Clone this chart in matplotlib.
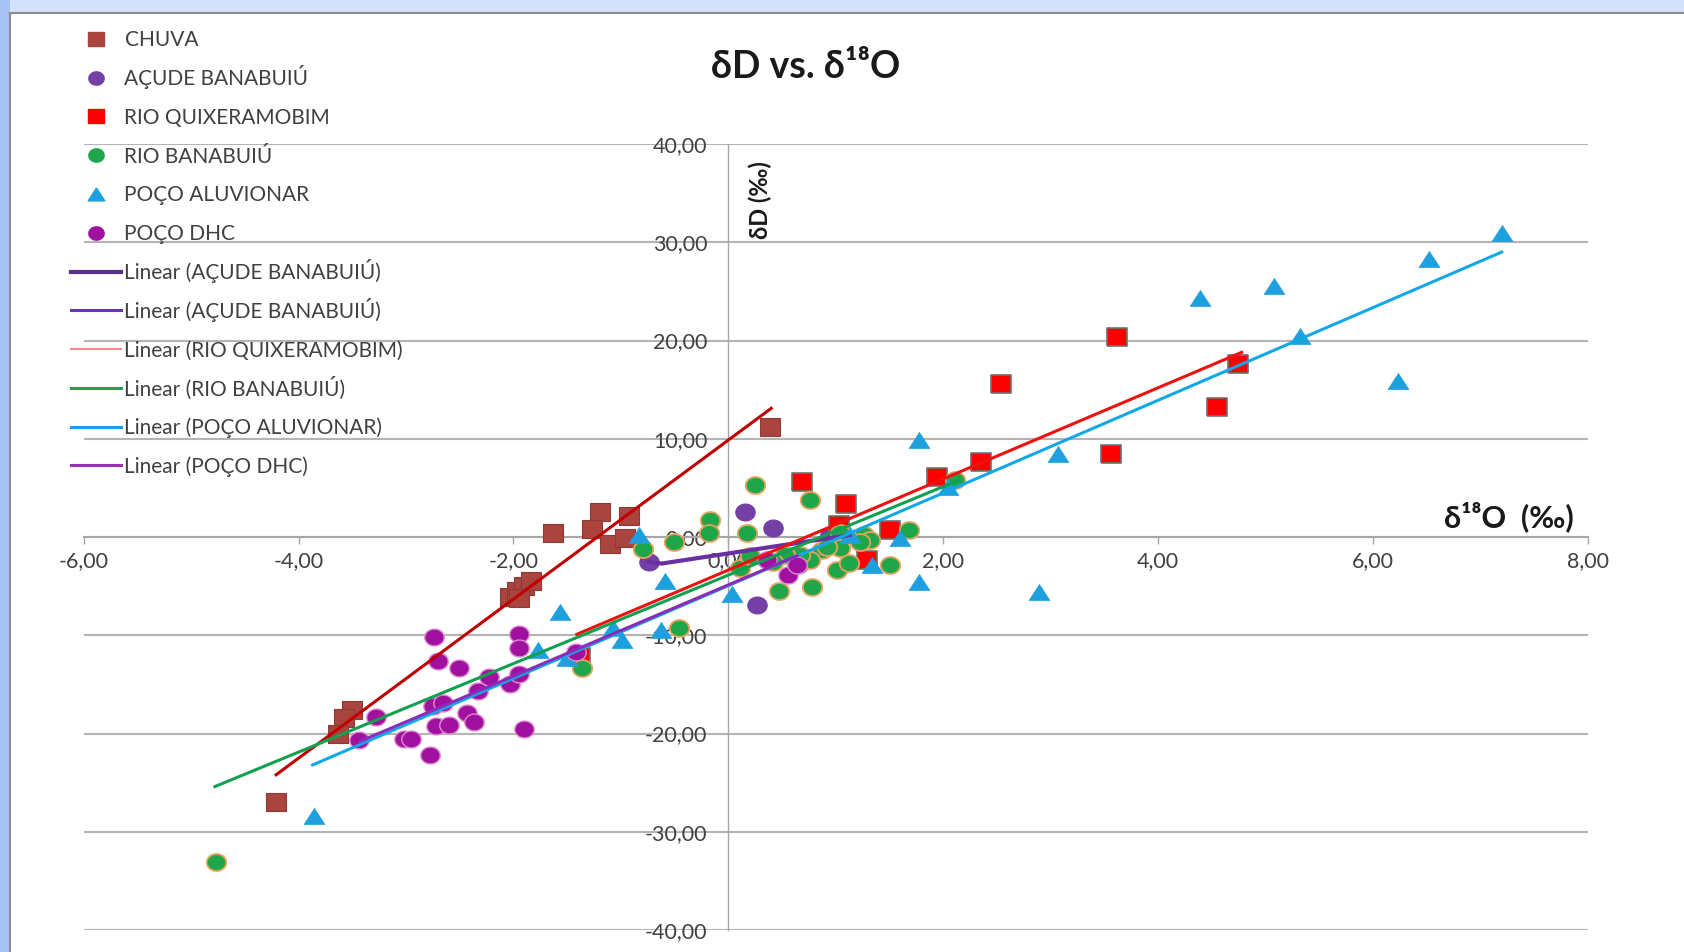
import numpy as np
import matplotlib
matplotlib.use('Agg')
from matplotlib import pyplot as plt
from matplotlib.lines import Line2D
from matplotlib.patches import Rectangle
from matplotlib.path import Path
from matplotlib.ticker import FuncFormatter

plt.rcParams['font.family'] = ['Lato', 'DejaVu Sans']

# --- data (delta 18O, delta D) ---
chuva_x = [0.39, -1.63, -1.19, -1.27, -0.92, -1.10, -0.96, -2.03, -1.97, -1.90,
           -1.84, -1.95, -3.50, -3.58, -3.63, -4.21]
chuva_y = [11.2, 0.4, 2.5, 0.8, 2.1, -0.7, -0.1, -6.1, -5.5, -5.0,
           -4.5, -6.2, -17.6, -18.4, -20.0, -27.0]

acude_x = [-0.74, 0.16, 0.42, 0.27, 0.65, 0.95, 0.36]
acude_y = [-2.5, 2.5, 0.9, -6.9, -2.85, 0.2, -2.3]

quix_x = [0.69, 1.10, 1.03, 1.51, 1.29, 1.94, 2.35, 2.54, 3.56, 3.62, 4.55, 4.75, -1.38]
quix_y = [5.6, 3.4, 1.2, 0.7, -2.3, 6.1, 7.65, 15.6, 8.4, 20.4, 13.2, 17.65, -12.2]

rio_x = [-4.77, -1.36, -0.46, -0.79, -0.51, -0.17, -0.18, 0.25, 0.17, 0.76,
         0.47, 0.78, 1.01, 1.12, 1.51, 1.04, 0.87, 1.26, 1.32, 1.23,
         1.68, 1.04, 0.76, 0.67, 0.53, 0.11, 0.42, 0.92, 2.11, 0.20]
rio_y = [-33.1, -13.3, -9.3, -1.2, -0.5, 1.7, 0.4, 5.3, 0.4, 3.8,
         -5.5, -5.1, -3.35, -2.6, -2.85, 0.4, -1.3, 0.2, -0.3, -0.5,
         0.7, -1.15, -2.3, -1.8, -1.8, -3.2, -2.5, -1.0, 5.8, -1.9]

aluv_x = [-3.86, -1.77, -1.50, -1.57, -1.07, -0.99, -0.63, -0.83, -0.59, 0.03,
          1.13, 1.34, 1.60, 1.78, 1.78, 2.05, 2.89, 3.07, 4.39, 5.08,
          5.32, 6.24, 6.52, 7.20]
aluv_y = [-28.4, -11.5, -12.3, -7.6, -9.3, -10.5, -9.5, 0.2, -4.5, -5.8,
          0.2, -2.85, -0.1, -4.6, 9.9, 5.05, -5.6, 8.4, 24.3, 25.6,
          20.5, 15.9, 28.3, 30.9]

dhc_x = [-2.74, -2.70, -2.51, -2.23, -2.33, -2.03, -1.95, -1.95, -1.95, -1.42,
         -3.28, -3.44, -3.02, -2.95, -2.78, -2.75, -2.66, -2.72, -2.60, -2.43,
         -2.37, -1.90, 0.56, 0.36, 0.64]
dhc_y = [-10.2, -12.6, -13.3, -14.2, -15.7, -15.0, -9.9, -11.3, -13.9, -11.7,
         -18.3, -20.7, -20.6, -20.6, -22.2, -17.2, -16.9, -19.2, -19.1, -17.9,
         -18.8, -19.5, -3.86, -2.3, -2.85]

# trend line end points as drawn on the chart
chuva_fit_x, chuva_fit_y = [-4.21, 0.40], [-24.2, 13.1]
acude_fit_x, acude_fit_y = [-0.74, -0.62, 1.13], [-2.55, -2.7, 0.2]
quix_fit_x, quix_fit_y = [-1.41, 4.78], [-9.9, 18.8]
rio_fit_x, rio_fit_y = [-4.78, 2.15], [-25.4, 5.8]
aluv_fit_x, aluv_fit_y = [-3.87, 7.20], [-23.2, 29.0]
dhc_fit_x, dhc_fit_y = [-3.43, 0.64], [-20.8, -1.9]

x_ticks = [-6, -4, -2, 0, 2, 4, 6, 8]
y_ticks = [-40, -30, -20, -10, 0, 10, 20, 30, 40]

legend_labels = ['CHUVA', 'AÇUDE BANABUIÚ', 'RIO QUIXERAMOBIM', 'RIO BANABUIÚ',
                 'POÇO ALUVIONAR', 'POÇO DHC', 'Linear (AÇUDE BANABUIÚ)',
                 'Linear (AÇUDE BANABUIÚ)', 'Linear (RIO QUIXERAMOBIM)',
                 'Linear (RIO BANABUIÚ)', 'Linear (POÇO ALUVIONAR)', 'Linear (POÇO DHC)']

# markers are a bit wider than tall in the original (stretched picture)
t = np.linspace(0, 2 * np.pi, 48)
oval = Path(np.column_stack([1.15 * np.cos(t), np.sin(t)]))
rect = Path([(-0.6, -0.5), (0.6, -0.5), (0.6, 0.5), (-0.6, 0.5), (-0.6, -0.5)])
tri = Path([(0, 0.5), (0.65, -0.5), (-0.65, -0.5), (0, 0.5)])

fig = plt.figure(figsize=(16.84, 9.52), dpi=100)
fig.patch.set_facecolor('#D3E2FB')
fig.patches.append(Rectangle((0, 0), 0.006, 1, transform=fig.transFigure,
                             facecolor='#A8C2F3', edgecolor='none', zorder=-10))
fig.patches.append(Rectangle((0.0062, -0.01), 1.0, 0.9965, transform=fig.transFigure,
                             facecolor='white', edgecolor='#8C8C8C', lw=1.5, zorder=-9))

ax = fig.add_axes([0.0498, 0.0231, 0.8929, 0.8256])
ax.set_facecolor('none')
ax.set_xlim(-6, 8)
ax.set_ylim(-40, 40)

for side in ['top', 'right']:
    ax.spines[side].set_visible(False)
ax.spines['left'].set_position(('data', 0))
ax.spines['bottom'].set_position(('data', 0))
ax.spines['left'].set_color('#A6A6A6')
ax.spines['bottom'].set_color('#A6A6A6')
ax.spines['left'].set_linewidth(1.0)
ax.spines['bottom'].set_linewidth(1.5)

ax.set_xticks(x_ticks)
ax.set_yticks(y_ticks)
fmt = FuncFormatter(lambda v, p: ('%.2f' % v).replace('.', ','))
ax.xaxis.set_major_formatter(fmt)
ax.yaxis.set_major_formatter(fmt)
ax.tick_params(axis='x', length=5, width=1, color='#A6A6A6', pad=5,
               labelsize=15.5, labelcolor='#404040')
ax.tick_params(axis='y', length=0, pad=15, labelsize=15.5, labelcolor='#404040')
ax.yaxis.grid(True, color='#B4B4B4', lw=1.5)
ax.set_axisbelow(True)

ms_sq = 15 ** 2
ms_c = 14 ** 2
ms_t = 15 ** 2
ax.scatter(chuva_x, chuva_y, marker=rect, s=ms_sq, c='#A9443F', edgecolors='#8E3A36', lw=0.8, zorder=3)
ax.scatter(acude_x, acude_y, marker=oval, s=ms_c, c='#7440A5', edgecolors='#7440A5', lw=0.8, zorder=3)
ax.scatter(quix_x, quix_y, marker=rect, s=ms_sq, c='#FF0000', edgecolors='#6F6F6F', lw=1.2, zorder=3)
ax.scatter(rio_x, rio_y, marker=oval, s=ms_c, c='#1FA64A', edgecolors='#E3A35C', lw=1.3, zorder=3)
ax.scatter(aluv_x, aluv_y, marker=tri, s=ms_t, c='#1EA0DE', edgecolors='#1EA0DE', lw=0.5, zorder=3)
ax.scatter(dhc_x, dhc_y, marker=oval, s=ms_c, c='#A0119F', edgecolors='#E08AD0', lw=1.0, zorder=3)

ax.plot(chuva_fit_x, chuva_fit_y, color='#C00000', lw=2.2, zorder=4)
ax.plot(acude_fit_x, acude_fit_y, color='#6A2FA0', lw=3.0, zorder=4)
ax.plot(quix_fit_x, quix_fit_y, color='#F01010', lw=2.2, zorder=4)
ax.plot(rio_fit_x, rio_fit_y, color='#10A050', lw=2.2, zorder=4)
ax.plot(aluv_fit_x, aluv_fit_y, color='#12A8E8', lw=2.2, zorder=4)
ax.plot(dhc_fit_x, dhc_fit_y, color='#8A2CB8', lw=2.2, zorder=4)

ax.text(7.27, 2.1, 'δ¹⁸O  (‰)', fontsize=22, fontweight='bold', ha='center', va='center',
        color='#1A1A1A')
ax.text(0.30, 34.3, 'δD (‰)', fontsize=17, fontweight='bold', rotation=90,
        ha='center', va='center', color='#1A1A1A')
fig.text(0.4785, 0.930, 'δD vs. δ¹⁸O', fontsize=27, fontweight='bold', ha='center',
         va='center', color='#1A1A1A')

# legend drawn by hand so that every row has the same height
styles = [
    dict(marker=rect, ms=12, mfc='#A9443F', mec='#A9443F'),
    dict(marker=oval, ms=11, mfc='#7440A5', mec='#7440A5'),
    dict(marker=rect, ms=12, mfc='#FF0000', mec='#FF0000'),
    dict(marker=oval, ms=11, mfc='#1FA64A', mec='#1FA64A'),
    dict(marker=tri, ms=12, mfc='#1EA0DE', mec='#1EA0DE'),
    dict(marker=oval, ms=11, mfc='#A0119F', mec='#A0119F'),
    dict(color='#5B2C8F', lw=3),
    dict(color='#6B34A8', lw=2.2),
    dict(color='#F08C8C', lw=1.5),
    dict(color='#22A050', lw=2.2),
    dict(color='#1AA0E0', lw=2.2),
    dict(color='#9B30B0', lw=2.2),
]
W, H = 1684.0, 952.0
fs_leg = 15
cap_half = 0.36 * fs_leg * 100 / 72  # half of the capital height, in pixels
for i, (lab, st) in enumerate(zip(legend_labels, styles)):
    yy = 1 - (38.7 + 38.8 * i) / H
    if 'marker' in st:
        fig.add_artist(Line2D([95.6 / W], [yy], ls='none', transform=fig.transFigure, **st))
    else:
        fig.add_artist(Line2D([71 / W, 121 / W], [yy, yy], transform=fig.transFigure, **st))
    fig.text(124.5 / W, yy - cap_half / H, lab, fontsize=fs_leg, color='#404040',
             ha='left', va='baseline')

plt.savefig('out.png', dpi=100)
